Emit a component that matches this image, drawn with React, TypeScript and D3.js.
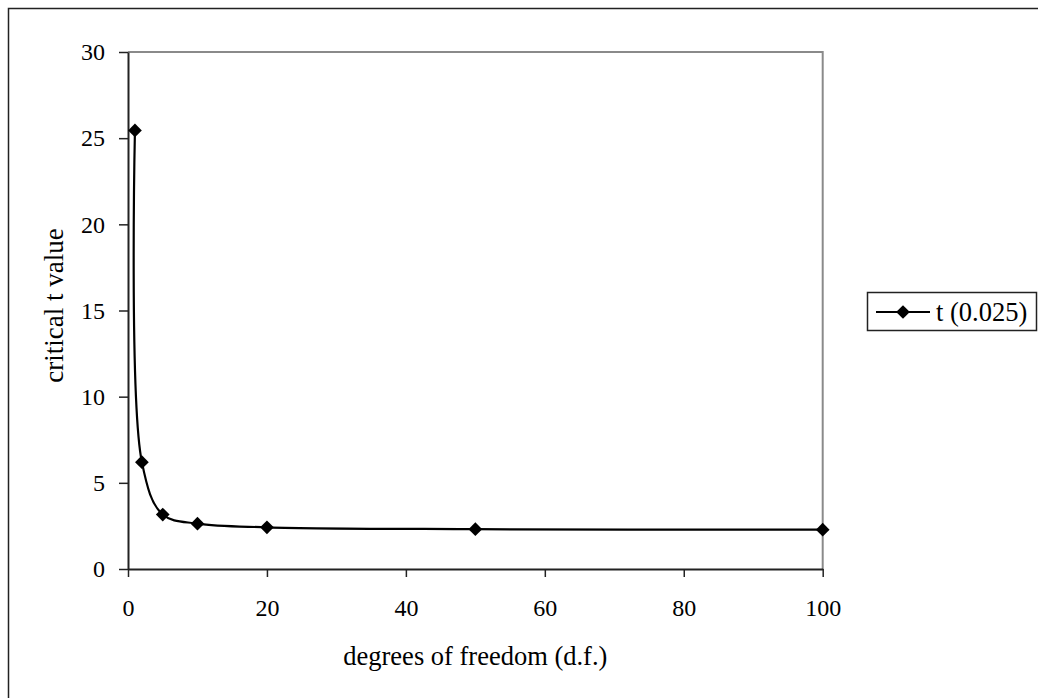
import { useEffect, useRef } from 'react';
import * as d3 from 'd3';

// degrees of freedom and the critical t value
const dfValues = [1, 2, 5, 10, 20, 50, 100];
const tValues = [25.45, 6.2, 3.16, 2.63, 2.42, 2.31, 2.28];
const xTicks = [0, 20, 40, 60, 80, 100];
const yTicks = [0, 5, 10, 15, 20, 25, 30];
const seriesName = 't (0.025)';

const FONT = '"Liberation Serif", "Times New Roman", serif';

function TChart() {
  const svgRef = useRef<SVGSVGElement>(null);

  useEffect(() => {
    if (!svgRef.current) return;
    const svg = d3.select(svgRef.current);
    svg.selectAll('*').remove();

    const width = 1038;
    const height = 698;
    const plot = { left: 128, right: 822.7, top: 52, bottom: 569 };

    svg.attr('width', width).attr('height', height);

    // outer chart frame (runs off the right and bottom of the picture)
    svg.append('rect')
      .attr('x', 8.5).attr('y', 8.5)
      .attr('width', width + 20).attr('height', height + 20)
      .attr('fill', '#fff')
      .attr('stroke', '#222')
      .attr('stroke-width', 1.5);

    const x = d3.scaleLinear().domain([0, 100]).range([plot.left, plot.right]);
    const y = d3.scaleLinear().domain([0, 30]).range([plot.bottom, plot.top]);

    // top and right border of the plot area
    svg.append('path')
      .attr('d', `M${plot.left},${plot.top}H${plot.right}V${plot.bottom}`)
      .attr('fill', 'none')
      .attr('stroke', '#8a8a8a')
      .attr('stroke-width', 2);

    // y axis
    const yAxis = svg.append('g')
      .attr('transform', `translate(${plot.left},0)`)
      .call(d3.axisLeft(y).tickValues(yTicks).tickSize(9).tickPadding(14).tickSizeOuter(0));
    yAxis.select('.domain').attr('stroke', '#222').attr('stroke-width', 2);
    yAxis.selectAll('.tick line').attr('stroke', '#222').attr('stroke-width', 1.5);
    yAxis.selectAll('.tick text')
      .attr('fill', '#000')
      .style('font-family', FONT)
      .style('font-size', '24px');

    // x axis
    const xAxis = svg.append('g')
      .attr('transform', `translate(0,${plot.bottom})`)
      .call(d3.axisBottom(x).tickValues(xTicks).tickSize(8).tickPadding(22).tickSizeOuter(0));
    xAxis.select('.domain').attr('stroke', '#222').attr('stroke-width', 2);
    xAxis.selectAll('.tick line').attr('stroke', '#222').attr('stroke-width', 1.5);
    xAxis.selectAll('.tick text')
      .attr('fill', '#000')
      .style('font-family', FONT)
      .style('font-size', '24px');

    // axis titles
    svg.append('text')
      .attr('x', (plot.left + plot.right) / 2)
      .attr('y', 665)
      .attr('text-anchor', 'middle')
      .style('font-family', FONT)
      .style('font-size', '26.5px')
      .text('degrees of freedom (d.f.)');

    svg.append('text')
      .attr('transform', `translate(63,${(plot.top + plot.bottom) / 2 - 5}) rotate(-90)`)
      .attr('text-anchor', 'middle')
      .style('font-family', FONT)
      .style('font-size', '27px')
      .text('critical t value');

    // smoothed series line
    const data = dfValues.map((d, i) => ({ df: d, t: tValues[i] }));
    const line = d3.line<{ df: number; t: number }>()
      .x(d => x(d.df))
      .y(d => y(d.t))
      .curve(d3.curveCatmullRom.alpha(0.5));

    svg.append('path')
      .attr('fill', 'none')
      .attr('stroke', '#000')
      .attr('stroke-width', 2.2)
      .attr('d', line(data));

    const diamond = d3.symbol().type(d3.symbolDiamond2).size(120);

    svg.selectAll('.pt')
      .data(data)
      .enter()
      .append('path')
      .attr('class', 'pt')
      .attr('transform', d => `translate(${x(d.df)},${y(d.t)})`)
      .attr('d', diamond)
      .attr('fill', '#000');

    // legend
    const lg = svg.append('g');
    lg.append('rect')
      .attr('x', 867.5).attr('y', 292.5)
      .attr('width', 169).attr('height', 38)
      .attr('fill', '#fff')
      .attr('stroke', '#222')
      .attr('stroke-width', 1.5);
    lg.append('line')
      .attr('x1', 876).attr('x2', 930)
      .attr('y1', 312).attr('y2', 312)
      .attr('stroke', '#000')
      .attr('stroke-width', 2.2);
    lg.append('path')
      .attr('transform', 'translate(903,312)')
      .attr('d', diamond)
      .attr('fill', '#000');
    lg.append('text')
      .attr('x', 936)
      .attr('y', 321)
      .style('font-family', FONT)
      .style('font-size', '26.5px')
      .text(seriesName);
  }, []);

  return <svg ref={svgRef} style={{ display: 'block' }}></svg>;
}

export default function App() {
  return (
    <div style={{ position: 'fixed', left: 0, top: 0, background: '#fff' }}>
      <TChart />
    </div>
  );
}
